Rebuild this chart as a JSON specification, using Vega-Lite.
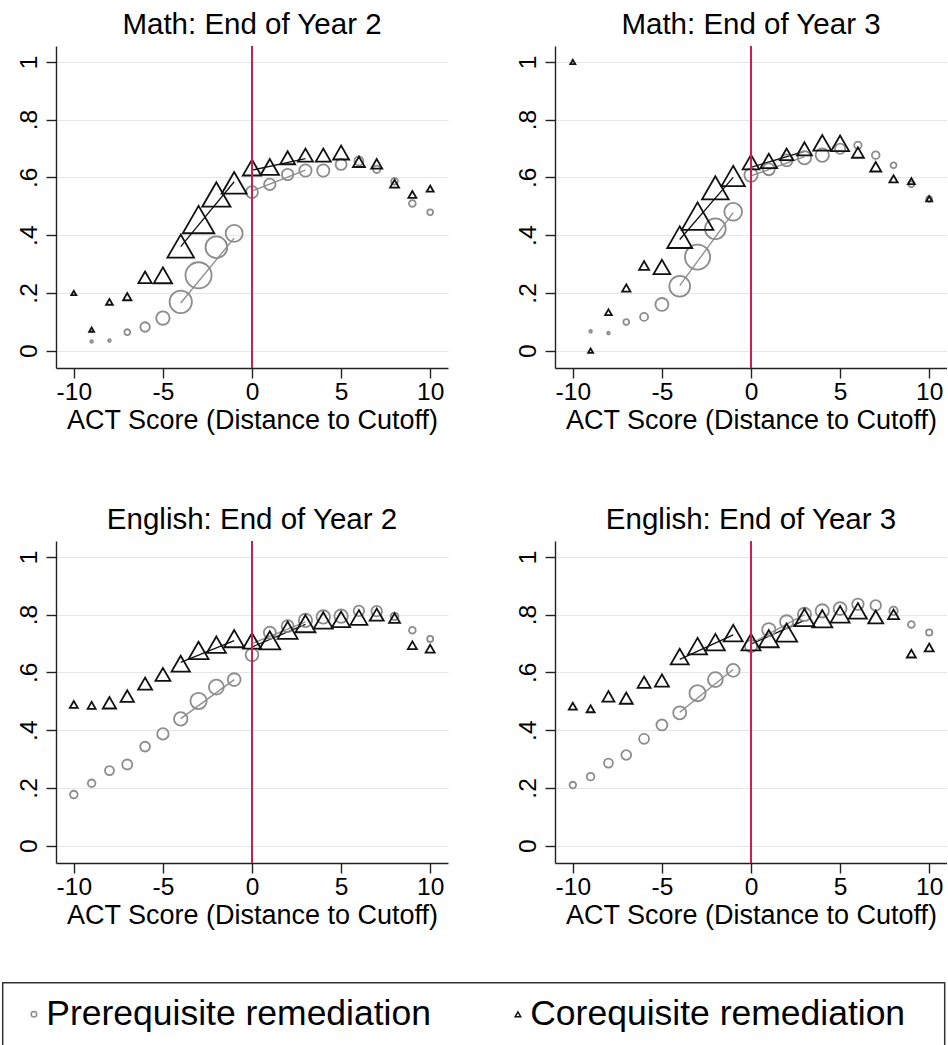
{
  "$schema": "https://vega.github.io/schema/vega-lite/v6.json",
  "background": "white",
  "padding": {"left": 1, "top": 10, "right": 0, "bottom": 0},
  "data": {"values": [
    {"panel":"Math: End of Year 2","g":"Pre","kind":"bin","x":-9,"y":0.032,"n":0.7},
    {"panel":"Math: End of Year 2","g":"Pre","kind":"bin","x":-8,"y":0.035,"n":0.7},
    {"panel":"Math: End of Year 2","g":"Pre","kind":"bin","x":-7,"y":0.064,"n":3.5},
    {"panel":"Math: End of Year 2","g":"Pre","kind":"bin","x":-6,"y":0.082,"n":9},
    {"panel":"Math: End of Year 2","g":"Pre","kind":"bin","x":-5,"y":0.113,"n":18},
    {"panel":"Math: End of Year 2","g":"Pre","kind":"bin","x":-4,"y":0.169,"n":50},
    {"panel":"Math: End of Year 2","g":"Pre","kind":"bin","x":-3,"y":0.261,"n":68},
    {"panel":"Math: End of Year 2","g":"Pre","kind":"bin","x":-2,"y":0.358,"n":47},
    {"panel":"Math: End of Year 2","g":"Pre","kind":"bin","x":-1,"y":0.406,"n":29},
    {"panel":"Math: End of Year 2","g":"Pre","kind":"bin","x":0,"y":0.549,"n":14},
    {"panel":"Math: End of Year 2","g":"Pre","kind":"bin","x":1,"y":0.576,"n":13},
    {"panel":"Math: End of Year 2","g":"Pre","kind":"bin","x":2,"y":0.610,"n":13},
    {"panel":"Math: End of Year 2","g":"Pre","kind":"bin","x":3,"y":0.624,"n":15},
    {"panel":"Math: End of Year 2","g":"Pre","kind":"bin","x":4,"y":0.624,"n":15},
    {"panel":"Math: End of Year 2","g":"Pre","kind":"bin","x":5,"y":0.645,"n":12},
    {"panel":"Math: End of Year 2","g":"Pre","kind":"bin","x":6,"y":0.657,"n":8},
    {"panel":"Math: End of Year 2","g":"Pre","kind":"bin","x":7,"y":0.628,"n":5.5},
    {"panel":"Math: End of Year 2","g":"Pre","kind":"bin","x":8,"y":0.587,"n":4.5},
    {"panel":"Math: End of Year 2","g":"Pre","kind":"bin","x":9,"y":0.510,"n":4.5},
    {"panel":"Math: End of Year 2","g":"Pre","kind":"bin","x":10,"y":0.479,"n":3.5},
    {"panel":"Math: End of Year 2","g":"Co","kind":"bin","x":-10,"y":0.200,"n":2.5},
    {"panel":"Math: End of Year 2","g":"Co","kind":"bin","x":-9,"y":0.073,"n":2.5},
    {"panel":"Math: End of Year 2","g":"Co","kind":"bin","x":-8,"y":0.169,"n":4.5},
    {"panel":"Math: End of Year 2","g":"Co","kind":"bin","x":-7,"y":0.187,"n":6.9},
    {"panel":"Math: End of Year 2","g":"Co","kind":"bin","x":-6,"y":0.254,"n":17.7},
    {"panel":"Math: End of Year 2","g":"Co","kind":"bin","x":-5,"y":0.261,"n":33.6},
    {"panel":"Math: End of Year 2","g":"Co","kind":"bin","x":-4,"y":0.362,"n":71},
    {"panel":"Math: End of Year 2","g":"Co","kind":"bin","x":-3,"y":0.454,"n":100},
    {"panel":"Math: End of Year 2","g":"Co","kind":"bin","x":-2,"y":0.541,"n":80},
    {"panel":"Math: End of Year 2","g":"Co","kind":"bin","x":-1,"y":0.581,"n":62.5},
    {"panel":"Math: End of Year 2","g":"Co","kind":"bin","x":0,"y":0.634,"n":33.6},
    {"panel":"Math: End of Year 2","g":"Co","kind":"bin","x":1,"y":0.636,"n":33.6},
    {"panel":"Math: End of Year 2","g":"Co","kind":"bin","x":2,"y":0.668,"n":22.5},
    {"panel":"Math: End of Year 2","g":"Co","kind":"bin","x":3,"y":0.677,"n":22.5},
    {"panel":"Math: End of Year 2","g":"Co","kind":"bin","x":4,"y":0.677,"n":22.5},
    {"panel":"Math: End of Year 2","g":"Co","kind":"bin","x":5,"y":0.686,"n":25.6},
    {"panel":"Math: End of Year 2","g":"Co","kind":"bin","x":6,"y":0.654,"n":14.4},
    {"panel":"Math: End of Year 2","g":"Co","kind":"bin","x":7,"y":0.647,"n":12.1},
    {"panel":"Math: End of Year 2","g":"Co","kind":"bin","x":8,"y":0.578,"n":8.1},
    {"panel":"Math: End of Year 2","g":"Co","kind":"bin","x":9,"y":0.541,"n":6.4},
    {"panel":"Math: End of Year 2","g":"Co","kind":"bin","x":10,"y":0.561,"n":4.9},

    {"panel":"Math: End of Year 3","g":"Pre","kind":"bin","x":-9,"y":0.067,"n":0.7},
    {"panel":"Math: End of Year 3","g":"Pre","kind":"bin","x":-8,"y":0.061,"n":0.7},
    {"panel":"Math: End of Year 3","g":"Pre","kind":"bin","x":-7,"y":0.099,"n":3.5},
    {"panel":"Math: End of Year 3","g":"Pre","kind":"bin","x":-6,"y":0.117,"n":6.4},
    {"panel":"Math: End of Year 3","g":"Pre","kind":"bin","x":-5,"y":0.160,"n":16.8},
    {"panel":"Math: End of Year 3","g":"Pre","kind":"bin","x":-4,"y":0.223,"n":43},
    {"panel":"Math: End of Year 3","g":"Pre","kind":"bin","x":-3,"y":0.324,"n":63},
    {"panel":"Math: End of Year 3","g":"Pre","kind":"bin","x":-2,"y":0.422,"n":43},
    {"panel":"Math: End of Year 3","g":"Pre","kind":"bin","x":-1,"y":0.481,"n":31.4},
    {"panel":"Math: End of Year 3","g":"Pre","kind":"bin","x":0,"y":0.608,"n":17.7},
    {"panel":"Math: End of Year 3","g":"Pre","kind":"bin","x":1,"y":0.628,"n":14},
    {"panel":"Math: End of Year 3","g":"Pre","kind":"bin","x":2,"y":0.659,"n":14},
    {"panel":"Math: End of Year 3","g":"Pre","kind":"bin","x":3,"y":0.668,"n":17.7},
    {"panel":"Math: End of Year 3","g":"Pre","kind":"bin","x":4,"y":0.677,"n":17.7},
    {"panel":"Math: End of Year 3","g":"Pre","kind":"bin","x":5,"y":0.699,"n":10.6},
    {"panel":"Math: End of Year 3","g":"Pre","kind":"bin","x":6,"y":0.711,"n":5.5},
    {"panel":"Math: End of Year 3","g":"Pre","kind":"bin","x":7,"y":0.677,"n":5.8},
    {"panel":"Math: End of Year 3","g":"Pre","kind":"bin","x":8,"y":0.642,"n":3.5},
    {"panel":"Math: End of Year 3","g":"Pre","kind":"bin","x":9,"y":0.576,"n":3.5},
    {"panel":"Math: End of Year 3","g":"Pre","kind":"bin","x":10,"y":0.525,"n":3.5},
    {"panel":"Math: End of Year 3","g":"Co","kind":"bin","x":-10,"y":1.000,"n":2.5},
    {"panel":"Math: End of Year 3","g":"Co","kind":"bin","x":-9,"y":0.000,"n":2.5},
    {"panel":"Math: End of Year 3","g":"Co","kind":"bin","x":-8,"y":0.133,"n":4.5},
    {"panel":"Math: End of Year 3","g":"Co","kind":"bin","x":-7,"y":0.217,"n":6.9},
    {"panel":"Math: End of Year 3","g":"Co","kind":"bin","x":-6,"y":0.295,"n":10},
    {"panel":"Math: End of Year 3","g":"Co","kind":"bin","x":-5,"y":0.290,"n":27.8},
    {"panel":"Math: End of Year 3","g":"Co","kind":"bin","x":-4,"y":0.393,"n":62.5},
    {"panel":"Math: End of Year 3","g":"Co","kind":"bin","x":-3,"y":0.466,"n":100},
    {"panel":"Math: End of Year 3","g":"Co","kind":"bin","x":-2,"y":0.564,"n":71},
    {"panel":"Math: End of Year 3","g":"Co","kind":"bin","x":-1,"y":0.605,"n":54.4},
    {"panel":"Math: End of Year 3","g":"Co","kind":"bin","x":0,"y":0.653,"n":27.8},
    {"panel":"Math: End of Year 3","g":"Co","kind":"bin","x":1,"y":0.657,"n":27.8},
    {"panel":"Math: End of Year 3","g":"Co","kind":"bin","x":2,"y":0.680,"n":17.8},
    {"panel":"Math: End of Year 3","g":"Co","kind":"bin","x":3,"y":0.699,"n":22.5},
    {"panel":"Math: End of Year 3","g":"Co","kind":"bin","x":4,"y":0.720,"n":32.4},
    {"panel":"Math: End of Year 3","g":"Co","kind":"bin","x":5,"y":0.718,"n":32.4},
    {"panel":"Math: End of Year 3","g":"Co","kind":"bin","x":6,"y":0.686,"n":14.4},
    {"panel":"Math: End of Year 3","g":"Co","kind":"bin","x":7,"y":0.637,"n":12.1},
    {"panel":"Math: End of Year 3","g":"Co","kind":"bin","x":8,"y":0.595,"n":6.9},
    {"panel":"Math: End of Year 3","g":"Co","kind":"bin","x":9,"y":0.587,"n":4.9},
    {"panel":"Math: End of Year 3","g":"Co","kind":"bin","x":10,"y":0.526,"n":3.6},

    {"panel":"English: End of Year 2","g":"Pre","kind":"bin","x":-10,"y":0.177,"n":5.8},
    {"panel":"English: End of Year 2","g":"Pre","kind":"bin","x":-9,"y":0.216,"n":5.8},
    {"panel":"English: End of Year 2","g":"Pre","kind":"bin","x":-8,"y":0.260,"n":8},
    {"panel":"English: End of Year 2","g":"Pre","kind":"bin","x":-7,"y":0.281,"n":10},
    {"panel":"English: End of Year 2","g":"Pre","kind":"bin","x":-6,"y":0.343,"n":9.5},
    {"panel":"English: End of Year 2","g":"Pre","kind":"bin","x":-5,"y":0.387,"n":13},
    {"panel":"English: End of Year 2","g":"Pre","kind":"bin","x":-4,"y":0.439,"n":18},
    {"panel":"English: End of Year 2","g":"Pre","kind":"bin","x":-3,"y":0.501,"n":26.5},
    {"panel":"English: End of Year 2","g":"Pre","kind":"bin","x":-2,"y":0.549,"n":22},
    {"panel":"English: End of Year 2","g":"Pre","kind":"bin","x":-1,"y":0.575,"n":16.3},
    {"panel":"English: End of Year 2","g":"Pre","kind":"bin","x":0,"y":0.661,"n":16.3},
    {"panel":"English: End of Year 2","g":"Pre","kind":"bin","x":1,"y":0.738,"n":14.5},
    {"panel":"English: End of Year 2","g":"Pre","kind":"bin","x":2,"y":0.760,"n":14.5},
    {"panel":"English: End of Year 2","g":"Pre","kind":"bin","x":3,"y":0.780,"n":18},
    {"panel":"English: End of Year 2","g":"Pre","kind":"bin","x":4,"y":0.792,"n":18},
    {"panel":"English: End of Year 2","g":"Pre","kind":"bin","x":5,"y":0.795,"n":18},
    {"panel":"English: End of Year 2","g":"Pre","kind":"bin","x":6,"y":0.813,"n":11},
    {"panel":"English: End of Year 2","g":"Pre","kind":"bin","x":7,"y":0.812,"n":11},
    {"panel":"English: End of Year 2","g":"Pre","kind":"bin","x":8,"y":0.794,"n":5.8},
    {"panel":"English: End of Year 2","g":"Pre","kind":"bin","x":9,"y":0.746,"n":4.5},
    {"panel":"English: End of Year 2","g":"Pre","kind":"bin","x":10,"y":0.716,"n":3.6},
    {"panel":"English: End of Year 2","g":"Co","kind":"bin","x":-10,"y":0.489,"n":6.4},
    {"panel":"English: End of Year 2","g":"Co","kind":"bin","x":-9,"y":0.486,"n":6.4},
    {"panel":"English: End of Year 2","g":"Co","kind":"bin","x":-8,"y":0.495,"n":17.8},
    {"panel":"English: End of Year 2","g":"Co","kind":"bin","x":-7,"y":0.518,"n":17.8},
    {"panel":"English: End of Year 2","g":"Co","kind":"bin","x":-6,"y":0.561,"n":19.6},
    {"panel":"English: End of Year 2","g":"Co","kind":"bin","x":-5,"y":0.593,"n":22.5},
    {"panel":"English: End of Year 2","g":"Co","kind":"bin","x":-4,"y":0.630,"n":33.6},
    {"panel":"English: End of Year 2","g":"Co","kind":"bin","x":-3,"y":0.676,"n":40},
    {"panel":"English: End of Year 2","g":"Co","kind":"bin","x":-2,"y":0.696,"n":36.1},
    {"panel":"English: End of Year 2","g":"Co","kind":"bin","x":-1,"y":0.717,"n":40},
    {"panel":"English: End of Year 2","g":"Co","kind":"bin","x":0,"y":0.709,"n":32.4},
    {"panel":"English: End of Year 2","g":"Co","kind":"bin","x":1,"y":0.711,"n":44.1},
    {"panel":"English: End of Year 2","g":"Co","kind":"bin","x":2,"y":0.746,"n":40},
    {"panel":"English: End of Year 2","g":"Co","kind":"bin","x":3,"y":0.769,"n":40},
    {"panel":"English: End of Year 2","g":"Co","kind":"bin","x":4,"y":0.780,"n":36.1},
    {"panel":"English: End of Year 2","g":"Co","kind":"bin","x":5,"y":0.784,"n":32.4},
    {"panel":"English: End of Year 2","g":"Co","kind":"bin","x":6,"y":0.790,"n":28.9},
    {"panel":"English: End of Year 2","g":"Co","kind":"bin","x":7,"y":0.800,"n":19.6},
    {"panel":"English: End of Year 2","g":"Co","kind":"bin","x":8,"y":0.788,"n":12.1},
    {"panel":"English: End of Year 2","g":"Co","kind":"bin","x":9,"y":0.694,"n":8.1},
    {"panel":"English: End of Year 2","g":"Co","kind":"bin","x":10,"y":0.682,"n":8.1},

    {"panel":"English: End of Year 3","g":"Pre","kind":"bin","x":-10,"y":0.210,"n":4.3},
    {"panel":"English: End of Year 3","g":"Pre","kind":"bin","x":-9,"y":0.239,"n":5.8},
    {"panel":"English: End of Year 3","g":"Pre","kind":"bin","x":-8,"y":0.286,"n":8},
    {"panel":"English: End of Year 3","g":"Pre","kind":"bin","x":-7,"y":0.314,"n":9.5},
    {"panel":"English: End of Year 3","g":"Pre","kind":"bin","x":-6,"y":0.370,"n":10},
    {"panel":"English: End of Year 3","g":"Pre","kind":"bin","x":-5,"y":0.418,"n":12},
    {"panel":"English: End of Year 3","g":"Pre","kind":"bin","x":-4,"y":0.460,"n":17},
    {"panel":"English: End of Year 3","g":"Pre","kind":"bin","x":-3,"y":0.528,"n":26},
    {"panel":"English: End of Year 3","g":"Pre","kind":"bin","x":-2,"y":0.575,"n":22},
    {"panel":"English: End of Year 3","g":"Pre","kind":"bin","x":-1,"y":0.607,"n":16.5},
    {"panel":"English: End of Year 3","g":"Pre","kind":"bin","x":0,"y":0.691,"n":15},
    {"panel":"English: End of Year 3","g":"Pre","kind":"bin","x":1,"y":0.748,"n":17.5},
    {"panel":"English: End of Year 3","g":"Pre","kind":"bin","x":2,"y":0.775,"n":17.5},
    {"panel":"English: End of Year 3","g":"Pre","kind":"bin","x":3,"y":0.801,"n":17.5},
    {"panel":"English: End of Year 3","g":"Pre","kind":"bin","x":4,"y":0.813,"n":17.5},
    {"panel":"English: End of Year 3","g":"Pre","kind":"bin","x":5,"y":0.821,"n":16.5},
    {"panel":"English: End of Year 3","g":"Pre","kind":"bin","x":6,"y":0.836,"n":13},
    {"panel":"English: End of Year 3","g":"Pre","kind":"bin","x":7,"y":0.832,"n":11},
    {"panel":"English: End of Year 3","g":"Pre","kind":"bin","x":8,"y":0.813,"n":7},
    {"panel":"English: End of Year 3","g":"Pre","kind":"bin","x":9,"y":0.766,"n":4.5},
    {"panel":"English: End of Year 3","g":"Pre","kind":"bin","x":10,"y":0.738,"n":4},
    {"panel":"English: End of Year 3","g":"Co","kind":"bin","x":-10,"y":0.483,"n":6.4},
    {"panel":"English: End of Year 3","g":"Co","kind":"bin","x":-9,"y":0.474,"n":6.4},
    {"panel":"English: End of Year 3","g":"Co","kind":"bin","x":-8,"y":0.517,"n":14.4},
    {"panel":"English: End of Year 3","g":"Co","kind":"bin","x":-7,"y":0.511,"n":16.9},
    {"panel":"English: End of Year 3","g":"Co","kind":"bin","x":-6,"y":0.566,"n":16.9},
    {"panel":"English: End of Year 3","g":"Co","kind":"bin","x":-5,"y":0.572,"n":19.6},
    {"panel":"English: End of Year 3","g":"Co","kind":"bin","x":-4,"y":0.655,"n":32.4},
    {"panel":"English: End of Year 3","g":"Co","kind":"bin","x":-3,"y":0.691,"n":36.1},
    {"panel":"English: End of Year 3","g":"Co","kind":"bin","x":-2,"y":0.705,"n":36.1},
    {"panel":"English: End of Year 3","g":"Co","kind":"bin","x":-1,"y":0.736,"n":36.1},
    {"panel":"English: End of Year 3","g":"Co","kind":"bin","x":0,"y":0.705,"n":36.1},
    {"panel":"English: End of Year 3","g":"Co","kind":"bin","x":1,"y":0.717,"n":40},
    {"panel":"English: End of Year 3","g":"Co","kind":"bin","x":2,"y":0.738,"n":44.1},
    {"panel":"English: End of Year 3","g":"Co","kind":"bin","x":3,"y":0.790,"n":40},
    {"panel":"English: End of Year 3","g":"Co","kind":"bin","x":4,"y":0.786,"n":40},
    {"panel":"English: End of Year 3","g":"Co","kind":"bin","x":5,"y":0.801,"n":36.1},
    {"panel":"English: End of Year 3","g":"Co","kind":"bin","x":6,"y":0.813,"n":32.4},
    {"panel":"English: End of Year 3","g":"Co","kind":"bin","x":7,"y":0.792,"n":22.5},
    {"panel":"English: End of Year 3","g":"Co","kind":"bin","x":8,"y":0.801,"n":12.1},
    {"panel":"English: End of Year 3","g":"Co","kind":"bin","x":9,"y":0.665,"n":8.1},
    {"panel":"English: End of Year 3","g":"Co","kind":"bin","x":10,"y":0.686,"n":8.1},

    {"panel":"Math: End of Year 2","g":"Co","kind":"fit","seg":"L","x":-4,"y":0.360},
    {"panel":"Math: End of Year 2","g":"Co","kind":"fit","seg":"L","x":-1,"y":0.585},
    {"panel":"Math: End of Year 2","g":"Co","kind":"fit","seg":"R","x":0,"y":0.625},
    {"panel":"Math: End of Year 2","g":"Co","kind":"fit","seg":"R","x":3,"y":0.665},
    {"panel":"Math: End of Year 2","g":"Pre","kind":"fit","seg":"L","x":-4,"y":0.165},
    {"panel":"Math: End of Year 2","g":"Pre","kind":"fit","seg":"L","x":-1,"y":0.390},
    {"panel":"Math: End of Year 2","g":"Pre","kind":"fit","seg":"R","x":0,"y":0.553},
    {"panel":"Math: End of Year 2","g":"Pre","kind":"fit","seg":"R","x":3,"y":0.625},
    {"panel":"Math: End of Year 3","g":"Co","kind":"fit","seg":"L","x":-4,"y":0.385},
    {"panel":"Math: End of Year 3","g":"Co","kind":"fit","seg":"L","x":-1,"y":0.600},
    {"panel":"Math: End of Year 3","g":"Co","kind":"fit","seg":"R","x":0,"y":0.635},
    {"panel":"Math: End of Year 3","g":"Co","kind":"fit","seg":"R","x":3,"y":0.690},
    {"panel":"Math: End of Year 3","g":"Pre","kind":"fit","seg":"L","x":-4,"y":0.225},
    {"panel":"Math: End of Year 3","g":"Pre","kind":"fit","seg":"L","x":-1,"y":0.478},
    {"panel":"Math: End of Year 3","g":"Pre","kind":"fit","seg":"R","x":0,"y":0.605},
    {"panel":"Math: End of Year 3","g":"Pre","kind":"fit","seg":"R","x":3,"y":0.672},
    {"panel":"English: End of Year 2","g":"Co","kind":"fit","seg":"L","x":-4,"y":0.635},
    {"panel":"English: End of Year 2","g":"Co","kind":"fit","seg":"L","x":-1,"y":0.710},
    {"panel":"English: End of Year 2","g":"Co","kind":"fit","seg":"R","x":0,"y":0.688},
    {"panel":"English: End of Year 2","g":"Co","kind":"fit","seg":"R","x":3,"y":0.766},
    {"panel":"English: End of Year 2","g":"Pre","kind":"fit","seg":"L","x":-4,"y":0.440},
    {"panel":"English: End of Year 2","g":"Pre","kind":"fit","seg":"L","x":-1,"y":0.575},
    {"panel":"English: End of Year 2","g":"Pre","kind":"fit","seg":"R","x":0,"y":0.700},
    {"panel":"English: End of Year 2","g":"Pre","kind":"fit","seg":"R","x":3,"y":0.775},
    {"panel":"English: End of Year 3","g":"Co","kind":"fit","seg":"L","x":-4,"y":0.645},
    {"panel":"English: End of Year 3","g":"Co","kind":"fit","seg":"L","x":-1,"y":0.730},
    {"panel":"English: End of Year 3","g":"Co","kind":"fit","seg":"R","x":0,"y":0.698},
    {"panel":"English: End of Year 3","g":"Co","kind":"fit","seg":"R","x":3,"y":0.780},
    {"panel":"English: End of Year 3","g":"Pre","kind":"fit","seg":"L","x":-4,"y":0.462},
    {"panel":"English: End of Year 3","g":"Pre","kind":"fit","seg":"L","x":-1,"y":0.610},
    {"panel":"English: End of Year 3","g":"Pre","kind":"fit","seg":"R","x":0,"y":0.700},
    {"panel":"English: End of Year 3","g":"Pre","kind":"fit","seg":"R","x":3,"y":0.800}
  ]},
  "facet": {
    "field": "panel", "type": "nominal",
    "sort": ["Math: End of Year 2", "Math: End of Year 3", "English: End of Year 2", "English: End of Year 3"],
    "header": {
      "title": null,
      "labelFont": "Liberation Sans", "labelFontSize": 29.5, "labelColor": "black", "labelPadding": 4.5
    }
  },
  "columns": 2,
  "spacing": {"row": 71, "column": 67},
  "resolve": {"axis": {"x": "independent", "y": "independent"}},
  "spec": {
    "width": 392,
    "height": 322,
    "encoding": {
      "x": {"field": "x", "type": "quantitative",
        "scale": {"domain": [-11, 11], "nice": false, "zero": false},
        "axis": {"title": "ACT Score (Distance to Cutoff)", "values": [-10, -5, 0, 5, 10], "grid": false,
          "labelExpr": "'' + datum.value"}},
      "y": {"field": "y", "type": "quantitative",
        "scale": {"domain": [-0.06, 1.055], "nice": false, "zero": false},
        "axis": {"title": null, "values": [0, 0.2, 0.4, 0.6, 0.8, 1], "grid": true,
          "labelAngle": -90, "labelAlign": "center", "labelBaseline": "bottom", "labelPadding": 5,
          "labelExpr": "datum.value > 0 && datum.value < 1 ? substring(format(datum.value, '.1f'), 1) : format(datum.value, 'd')"}}
    },
    "layer": [
      {
        "transform": [{"filter": "datum.kind == 'fit'"}],
        "mark": {"type": "line", "strokeWidth": 1.3},
        "encoding": {
          "color": {"field": "g", "type": "nominal", "scale": {"domain": ["Pre", "Co"], "range": ["#8c8c8c", "#111111"]}},
          "detail": {"field": "seg"}
        }
      },
      {
        "transform": [{"filter": "datum.kind == 'bin'"}],
        "mark": {"type": "point", "filled": false, "strokeWidth": 1.8, "opacity": 1},
        "encoding": {
          "color": {"field": "g", "type": "nominal", "scale": {"domain": ["Pre", "Co"], "range": ["#8c8c8c", "#111111"]},
            "legend": {"title": " ", "labelExpr": "datum.label == 'Pre' ? 'Prerequisite remediation' : 'Corequisite remediation'"}},
          "shape": {"field": "g", "type": "nominal", "scale": {"domain": ["Pre", "Co"], "range": ["circle", "triangle-up"]}},
          "size": {"field": "n", "type": "quantitative", "scale": {"type": "linear", "domain": [0, 100], "range": [0, 1000]}, "legend": null}
        }
      },
      {
        "transform": [{"filter": "datum.kind == 'bin' && datum.x == 0 && datum.g == 'Pre'"}],
        "mark": {"type": "rule", "color": "#cc1f4f", "strokeWidth": 2},
        "encoding": {"x": {"datum": 0}, "y": null}
      }
    ]
  },
  "config": {
    "view": {"stroke": null},
    "font": "Liberation Sans",
    "axis": {
      "labelFont": "Liberation Sans", "titleFont": "Liberation Sans",
      "labelFontSize": 24.5, "titleFontSize": 27, "titleFontWeight": "normal",
      "labelColor": "black", "titleColor": "black",
      "domainColor": "#222222", "tickColor": "#222222", "domainWidth": 1.4, "tickWidth": 1.4, "tickSize": 10,
      "gridColor": "#e6e6e6", "gridWidth": 1.2
    },
    "axisX": {"labelPadding": 2, "titlePadding": 4},
    "legend": {
      "orient": "none", "legendX": -53.3, "legendY": 936.7, "direction": "horizontal",
      "strokeColor": "#333333", "strokeWidth": 1.5, "padding": 13.5,
      "titleOrient": "right", "titleFontSize": 4, "titlePadding": 26,
      "labelFont": "Liberation Sans", "labelFontSize": 35.5, "labelColor": "black", "labelLimit": 0,
      "symbolSize": 30, "symbolStrokeWidth": 1.5, "labelOffset": -5.5, "columnPadding": 69
    }
  }
}
